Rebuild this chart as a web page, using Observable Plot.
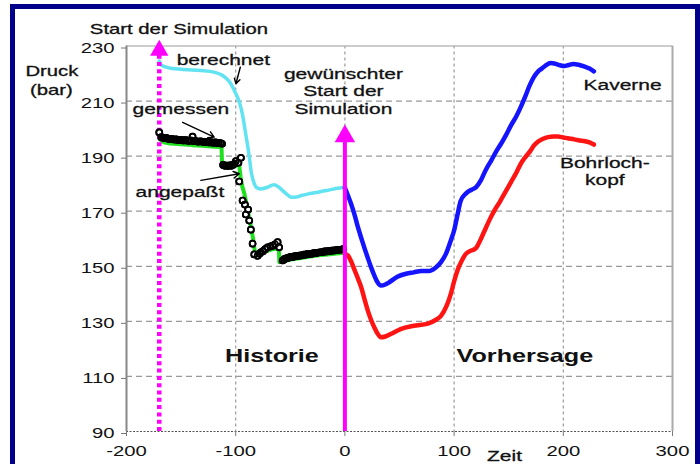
<!DOCTYPE html>
<html>
<head>
<meta charset="utf-8">
<script src="https://cdn.jsdelivr.net/npm/d3@7"></script>
<script src="https://cdn.jsdelivr.net/npm/@observablehq/plot@0.6"></script>
<style>
  html, body { margin: 0; padding: 0; background: #fff; }
  #wrap { position: relative; width: 700px; height: 464px; overflow: hidden; background: #fff; }
  #frame { position: absolute; left: 10px; top: 4px; width: 680px; height: 480px; border: 5px solid #00008a; box-sizing: content-box; pointer-events: none; }
  #chart { position: absolute; left: 0; top: 0; }
</style>
</head>
<body>
<div id="wrap"><div id="chart"></div><div id="frame"></div></div>
<script>
// ---- axis ticks ----
const xTicks = [-200, -100, 0, 100, 200, 300];
const yTicks = [90, 110, 130, 150, 170, 190, 210, 230];
const yGrid = [110, 130, 150, 170, 190, 210];
const xGrid = [-100, 0, 100, 200];

// ---- berechnet (cyan) ----
const berechnetX = [-170, -168, -156, -144, -132, -120, -112, -107, -104, -101, -97, -94, -91, -88, -85.5, -83, -81, -77, -71, -65, -61, -57, -53, -49, -44, -40, -32, -25, -17, -10, -5, 0];
const berechnetY = [224.5, 223, 221.7, 221.4, 221.1, 220.5, 219.3, 217.6, 216, 213.6, 210, 205.5, 198.5, 191, 183.6, 180, 178.6, 178.1, 178.7, 179.6, 178.9, 177.5, 176.1, 175.1, 175.2, 175.7, 176.4, 176.9, 177.5, 178.1, 178.4, 178.7];

// ---- angepaßt (green) ----
const angepasstX = [-170, -166, -160, -150, -140, -130, -122, -115, -113, -112.5, -106, -100, -97, -95.5, -94, -92, -90, -88, -86, -84, -82.5, -80, -74, -68, -63, -60.5, -60, -55, -48, -40, -32, -24, -16, -8, -2];
const angepasstY = [196.3, 195, 194.6, 194.3, 194, 193.8, 193.5, 193.3, 193.3, 187.3, 187.2, 187.2, 187.2, 182.4, 179, 176.3, 172.4, 168.3, 164.3, 159.8, 155.5, 154.6, 155.2, 156, 156.4, 156.4, 151.5, 152, 152.5, 153, 153.5, 154, 154.3, 154.6, 154.8];

// ---- gemessen (circles) ----
const gemessenX = [-170, -168, -166.5, -165, -163.5, -162, -160.5, -159, -157.5, -156, -154.5, -153, -151.5, -150, -148.5, -147, -145.5, -144, -142.5, -141, -139.5, -138, -136.5, -135, -133.5, -132, -130.5, -129, -127.5, -126, -124.5, -123, -121.5, -120, -118.5, -117, -115.5, -114, -112.5,
  -111.5, -110, -108.5, -107, -105.5, -104, -102.5, -101, -99.8, -97.5, -95.2,
  -96.8, -93.7, -91.6, -88.6, -90.7, -87.6, -86.1, -84.5, -83, -79.9, -78, -76.9, -75, -73, -70.8, -68, -66, -64, -61.6, -60.2,
  -57, -55.5, -54, -52.5, -51, -49.5, -48, -46.5, -45, -43.5, -42, -40.5, -39, -37.5, -36, -34.5, -33, -31.5, -30, -28.5, -27, -25.5, -24, -22.5, -21, -19.5, -18, -16.5, -15, -13.5, -12, -10.5, -9, -7.5, -6, -4.5, -3, -1.5];
const gemessenY = [198.6, 196.9, 196.6, 196.5, 196.6, 196.3, 196.2, 196.3, 196.1, 196, 196.1, 195.9, 195.8, 195.9, 195.7, 195.7, 195.8, 195.6, 195.5, 195.7, 197.1, 195.4, 195.5, 195.3, 195.3, 195.4, 195.2, 195.1, 195.2, 195.1, 195, 195.1, 194.9, 194.9, 195, 194.8, 194.8, 194.7, 194.5,
  186.8, 186.5, 186.6, 186.4, 186.7, 186.5, 186.9, 187.2, 188.2, 187.6, 189.4,
  180.8, 173.9, 172.4, 170.6, 168.8, 166.6, 163.3, 158.2, 154.3, 153.8, 154.6, 155.1, 155.5, 156.2, 156.9, 157.2, 157.5, 158, 158.8, 156.9,
  152.1, 152.6, 152.9, 153, 153.2, 153.4, 153.3, 153.6, 153.7, 153.8, 153.9, 153.9, 154.1, 154.2, 154.2, 154.4, 154.5, 154.5, 154.6, 154.8, 154.8, 154.9, 155, 155.1, 155.1, 155.3, 155.4, 155.4, 155.5, 155.6, 155.7, 155.7, 155.8, 155.9, 156, 156, 156.1, 156.2];

// ---- Kaverne (blue) ----
const kaverneX = [0, 3, 6, 9, 12, 15, 18, 21, 24, 27, 30, 33, 37, 41, 48, 56, 63, 70, 77, 83, 88, 92.5, 97, 100, 103, 106, 111, 116, 120, 124.5, 129, 134, 139, 143, 148, 152, 157, 161, 165, 169, 173, 177, 180, 184, 188.6, 193, 197, 201, 205, 209, 214, 219, 224, 228];
const kaverneY = [178.5, 175.5, 172.3, 168.5, 164.1, 160.2, 156.5, 153, 149.6, 146.6, 144.1, 143, 143.4, 144.3, 146.2, 147.3, 147.8, 148.3, 148.3, 149.5, 151.5, 154.5, 159.4, 163, 168.5, 173.7, 176.5, 177.8, 178.7, 181.2, 185, 188.4, 192, 194.5, 198, 201.1, 204.5, 207.8, 211.5, 215.5, 218.7, 220.8, 221.7, 223, 223.8, 223.5, 223, 222.7, 223.1, 223.5, 223.2, 222.6, 221.8, 220.8];

// ---- Bohrlochkopf (red) ----
const bohrlochX = [0, 3, 6, 9, 12, 15, 18, 21, 24, 27, 30, 33, 37, 42, 51, 63, 76, 83, 88, 93, 97, 100, 103, 107, 111, 115, 120, 124, 128, 132, 137, 142, 146, 152, 157, 161, 166, 170, 173, 177, 181, 186, 191, 195, 200, 204, 210, 215, 219, 224, 228];
const bohrlochY = [154.5, 153.8, 151.5, 148.5, 145.5, 142.3, 138, 133.9, 130.5, 127.8, 125.5, 124.2, 124.5, 125.4, 127.2, 128.4, 129.2, 130.5, 132, 135.5, 140, 144.5, 148.4, 152, 154.6, 155.6, 156.6, 159.5, 163, 166.5, 170.3, 173.5, 176.3, 180.5, 184, 187.2, 190, 192, 193.8, 195.3, 196.2, 196.9, 197.1, 197.1, 196.8, 196.5, 196.1, 195.7, 195.5, 195, 194.2];

// ---- simulation start markers ----
const startX = [-170, 0];          // dotted (history start), solid (desired start)
const startTop = [226.6, 195.1];
const arrowHeadY = [228.4, 197.2];

// ---- text labels ----
const labelText = ["Start der Simulation", "Druck", "(bar)", "berechnet", "gemessen", "angepaßt", "gewünschter\nStart der\nSimulation", "Kaverne", "Bohrloch-\nkopf", "Zeit"];
const labelX = [-152, -268.3, -268.8, -111.3, -150.2, -151.1, -1.4, 254.3, 238, 146.2];
const labelY = [236.2, 221, 214, 225.0, 207.2, 177.1, 213.8, 216.2, 184.6, 81.3];
const labelSize = [14.5, 14.5, 14.5, 15, 15, 15, 15, 15, 15, 15];
const phaseText = ["Historie", "Vorhersage"];
const phaseX = [-66.8, 164.8];
const phaseY = [117.3, 117.3];

// ---- annotation arrows ----
const arrowX1 = [-95.8, -148.6, -131.9];
const arrowY1 = [222.3, 202.3, 181.2];
const arrowX2 = [-99.8, -119.7, -96.8];
const arrowY2 = [216.3, 196.9, 183.6];

// ---- build tables ----
const zip = (xs, ys) => xs.map((x, i) => ({x, y: ys[i]}));
const berechnet = zip(berechnetX, berechnetY);
const angepasst = zip(angepasstX, angepasstY);
const gemessen = zip(gemessenX, gemessenY);
const kaverne = zip(kaverneX, kaverneY);
const bohrloch = zip(bohrlochX, bohrlochY);
const labels = labelText.map((t, i) => ({t, x: labelX[i], y: labelY[i], s: labelSize[i]}));
const phases = phaseText.map((t, i) => ({t, x: phaseX[i], y: phaseY[i]}));
const arrows = arrowX1.map((x1, i) => ({x1, y1: arrowY1[i], x2: arrowX2[i], y2: arrowY2[i]}));
const MAG = "#ff00ff";
const FONT = "'Liberation Sans', Arial, sans-serif";
const fmt = d => String(d);

const chart = Plot.plot({
  width: 700,
  height: 464,
  marginLeft: 126,
  marginRight: 28,
  marginTop: 45.5,
  marginBottom: 33,
  x: {domain: [-200, 300]},
  y: {domain: [90, 230]},
  style: {fontFamily: FONT, fontSize: "14.5px", color: "#111", background: "transparent", overflow: "visible"},
  marks: [
    Plot.ruleY(yGrid, {stroke: "#999", strokeWidth: 1.2, strokeDasharray: "6,4"}),
    Plot.ruleX(xGrid, {stroke: "#999", strokeWidth: 1.2, strokeDasharray: "3,3"}),
    Plot.ruleY([230], {stroke: "#bbb", strokeWidth: 1.5}),
    Plot.ruleX([300], {stroke: "#aaa", strokeWidth: 2}),
    Plot.ruleY([90], {stroke: "#555", strokeWidth: 1.2, strokeDasharray: "2,1.5"}),
    Plot.ruleX([-200], {stroke: "#888", strokeWidth: 2}),
    Plot.axisX(xTicks, {tickSize: 5, tickPadding: 9, stroke: "#777", label: null, fontSize: 14.5, tickFormat: fmt}),
    Plot.axisY(yTicks, {tickSize: 5, tickPadding: 7, stroke: "#777", label: null, fontSize: 14.5, dy: 2, tickFormat: fmt}),
    Plot.line(berechnet, {x: "x", y: "y", stroke: "#62e3f2", strokeWidth: 3.5, curve: "monotone-x"}),
    Plot.line(angepasst, {x: "x", y: "y", stroke: "#1ee01e", strokeWidth: 4}),
    Plot.ruleX([startX[0]], {y1: 90, y2: startTop[0], stroke: MAG, strokeWidth: 4.5, strokeDasharray: "4,3.3"}),
    Plot.dot(gemessen, {x: "x", y: "y", r: 3, stroke: "#000", strokeWidth: 1.7, fill: "#fff"}),
    Plot.dot(gemessen, {x: "x", y: "y", r: 3, stroke: "#000", strokeWidth: 1.7, fill: "none"}),
    Plot.line(kaverne, {x: "x", y: "y", stroke: "#1414ff", strokeWidth: 4.5, curve: "monotone-x"}),
    Plot.line(bohrloch, {x: "x", y: "y", stroke: "#ff1414", strokeWidth: 4.5, curve: "monotone-x"}),
    Plot.ruleX([startX[1]], {y1: 90, y2: startTop[1], stroke: MAG, strokeWidth: 4}),
    Plot.dot([0], {x: () => startX[0], y: () => arrowHeadY[0], symbol: "triangle", r: 6.8, fill: MAG}),
    Plot.dot([0], {x: () => startX[1], y: () => arrowHeadY[1], symbol: "triangle", r: 7.6, fill: MAG}),
    Plot.arrow(arrows, {x1: "x1", y1: "y1", x2: "x2", y2: "y2", stroke: "#000", strokeWidth: 1.4, headLength: 7}),
    Plot.text(labels, {x: "x", y: "y", text: "t", fontSize: "s", fill: "#111", stroke: "#111", strokeWidth: 0.3, lineHeight: 1.17, clip: false}),
    Plot.text(phases, {x: "x", y: "y", text: "t", fontSize: 18, fontWeight: "bold", fill: "#111"})
  ]
});

document.getElementById("chart").appendChild(chart);

// stretch glyphs horizontally like the reference raster
const K = 1.4;
chart.querySelectorAll("text").forEach(t => {
  const tr = t.getAttribute("transform");
  if (tr) t.setAttribute("transform", tr + ` scale(${K},1)`);
  else {
    const x = +t.getAttribute("x") || 0, y = +t.getAttribute("y") || 0;
    t.setAttribute("transform", `translate(${x},${y}) scale(${K},1) translate(${-x},${-y})`);
  }
});
</script>
</body>
</html>
